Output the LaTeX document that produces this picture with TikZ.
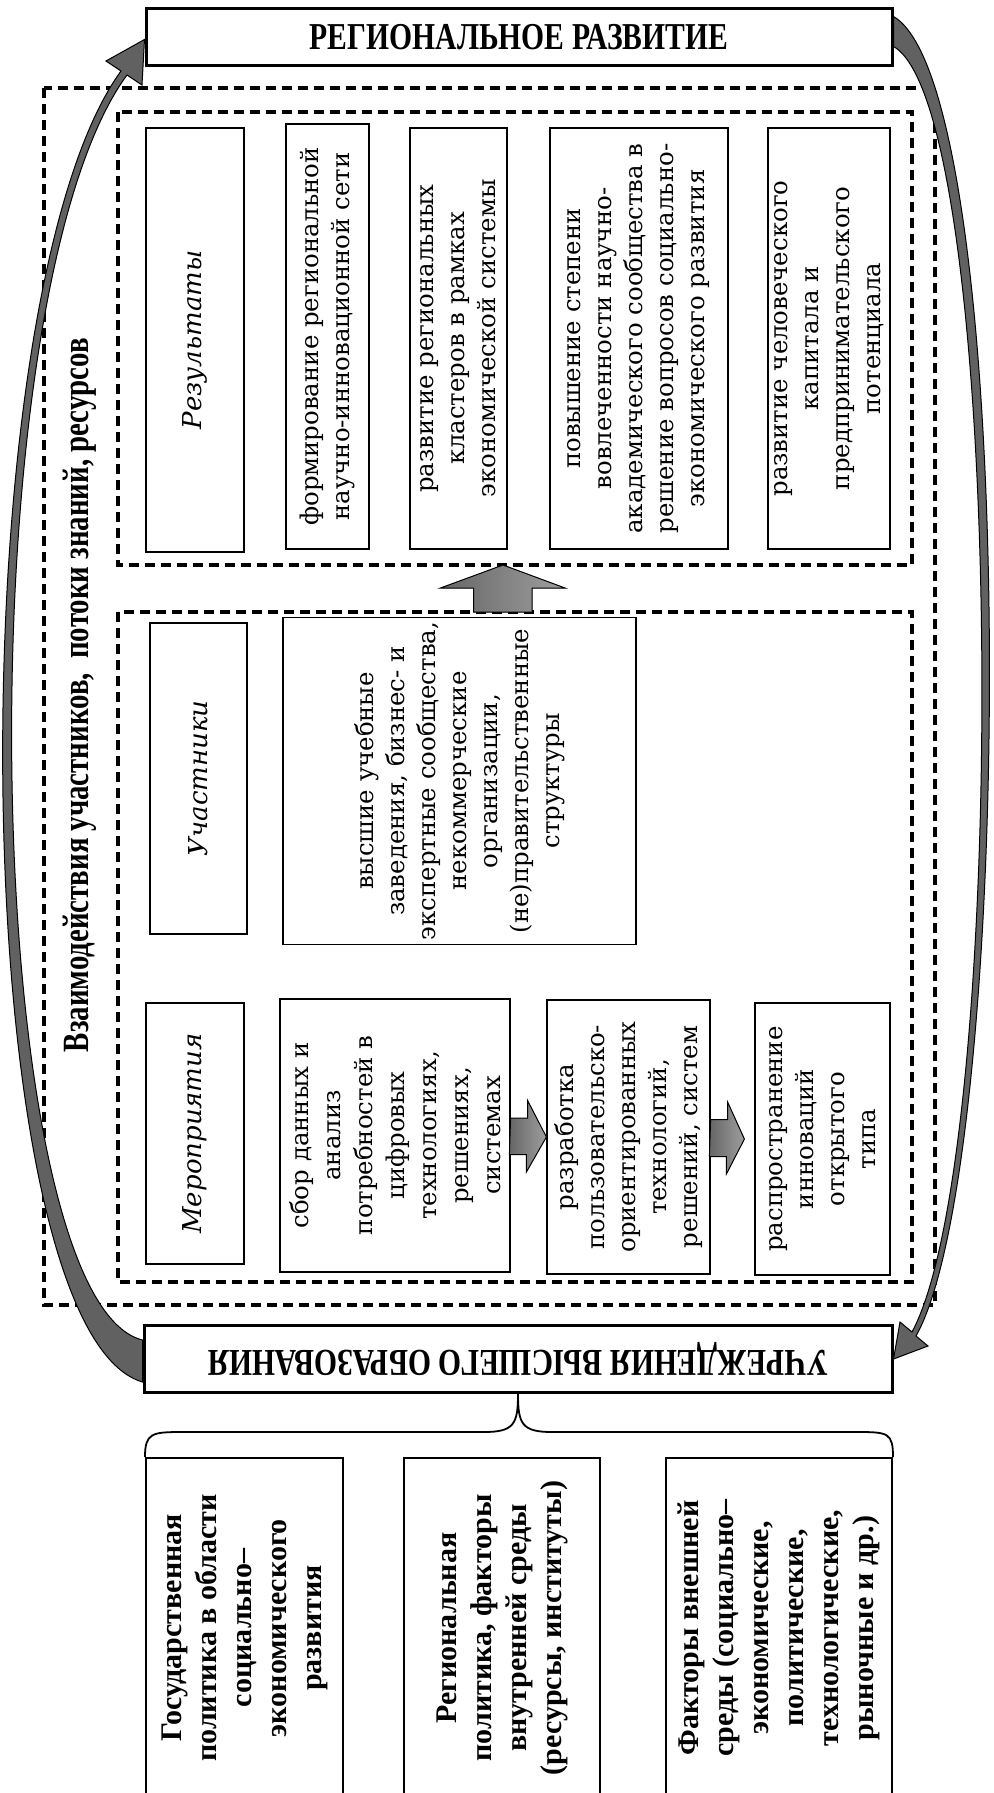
\documentclass[tikz,border=0pt]{standalone}
\usepackage{graphicx}
\usepackage{fontspec}
\setmainfont{DejaVu Serif}
\newfontfamily\headfont[FakeStretch=0.78]{Liberation Serif}
\newfontfamily\factfont{Liberation Serif}
\usetikzlibrary{calc}

\begin{document}
\begin{tikzpicture}[x=0.5pt, y=-0.5pt,
    head/.style={draw, line width=1.5pt, inner sep=0pt,
        font=\headfont\bfseries\fontsize{19}{22}\selectfont},
    frame/.style={line width=1.8pt, dash pattern=on 5pt off 3pt},
    item/.style={draw, line width=0.6pt, rotate=90, align=center, inner sep=2pt,
        font=\fontsize{12.2}{15.5}\selectfont},
    sect/.style={item, font=\fontsize{13}{15}\selectfont\itshape},
    fact/.style={draw, line width=1pt, rotate=90, align=center, inner sep=2pt,
        font=\factfont\bfseries\fontsize{15}{17.5}\selectfont},
    flow/.style={draw=black, line width=0.5pt, left color=black!60, right color=black!38},
    swoop/.style={draw=black, line width=0.5pt, fill=black!62}]

    \useasboundingbox (0,0) rectangle (993,1793);

    \foreach \xa/\ya/\xb/\yb in {44/88/935/1305, 118/112/912/565, 118/612/912/1282}
        \draw[frame] (\xa,\ya) rectangle (\xb,\yb);

    \node[head, minimum width=373pt, minimum height=28.5pt] (title) at (519,37.5)
        {РЕГИОНАЛЬНОЕ РАЗВИТИЕ};
    \node[head, minimum width=374pt, minimum height=33.5pt] (uni) at (518,1359)
        {\rotatebox{180}{УЧРЕЖДЕНИЯ ВЫСШЕГО ОБРАЗОВАНИЯ}};

    \node[rotate=90, font=\headfont\bfseries\fontsize{18.5}{20}\selectfont] (flows) at (80,695)
        {Взаимодействия участников,\ \ потоки знаний, ресурсов};

    \node[sect, minimum width=212pt, minimum height=49pt] (r0) at (195,340) {Результаты};
    \node[item, minimum width=212.5pt, minimum height=41.5pt] (r1) at (327.5,336.5)
        {формирование региональной\\научно-инновационной сети};
    \node[item, minimum width=210.5pt, minimum height=48.5pt] (r2) at (458.5,338.5)
        {развитие региональных\\кластеров в рамках\\экономической системы};
    \node[item, minimum width=210.5pt, minimum height=89pt] (r3) at (639,338.5)
        {повышение степени\\вовлеченности научно-\\академического сообщества в\\решение вопросов социально-\\экономического развития};
    \node[item, minimum width=210.5pt, minimum height=61pt] (r4) at (829,338.5)
        {развитие человеческого\\капитала и\\предпринимательского\\потенциала};

    \node[sect, minimum width=155.5pt, minimum height=48.5pt] (p0) at (198.5,778.5) {Участники};
    \node[item, minimum width=158pt, minimum height=176.5pt] (p1) at (459.5,781)
        {высшие учебные\\заведения, бизнес- и\\экспертные сообщества,\\некоммерческие\\организации,\\(не)правительственные\\структуры};

    \node[sect, minimum width=130.5pt, minimum height=49pt] (m0) at (195,1133.5) {Мероприятия};
    \node[item, minimum width=136.5pt, minimum height=115pt, font=\fontsize{12.2}{16}\selectfont]
        (m1) at (395,1135.5)
        {сбор данных и\\анализ\\потребностей в\\цифровых\\технологиях,\\решениях,\\системах};
    \node[item, minimum width=137pt, minimum height=81.5pt] (m2) at (628.5,1137)
        {разработка\\пользовательско-\\ориентированных\\технологий,\\решений, систем};
    \node[item, minimum width=136pt, minimum height=67.5pt] (m3) at (822.5,1139)
        {распространение\\инноваций\\открытого\\типа};

    \node[fact, minimum width=170pt, minimum height=98.5pt] (fa) at (244.5,1628)
        {Государственная\\политика в области\\социально–\\экономического\\развития};
    \node[fact, minimum width=170pt, minimum height=98pt] (fb) at (502,1628)
        {Региональная\\политика, факторы\\внутренней среды\\(ресурсы, институты)};
    \node[fact, minimum width=170pt, minimum height=113pt] (fc) at (779,1628)
        {Факторы внешней\\среды (социально–\\экономические,\\политические,\\технологические,\\рыночные и др.)};

    \coordinate (upbase) at (503,612);
    \coordinate (uptip) at (503,565);
    \filldraw[flow] (upbase) ++(-29.5,0) -- ++(0,-24) -- ++(-33,0) -- (uptip)
        -- ++(62,23) -- ++(-33,0) -- ++(0,24) -- cycle;
    \filldraw[flow] (m1.south) ++(0,-17.5) -- ++(17,0) -- ++(0,-17.5) -- (m2.north)
        -- ++(-20,35) -- ++(0,-17.5) -- ++(-17,0) -- cycle;
    \filldraw[flow] (m2.south) ++(0,-17.5) -- ++(17,0) -- ++(0,-17.5) -- ($(m3.north)+(-10,0)$)
        -- ++(-18,35) -- ++(0,-17.5) -- ++(-17,0) -- cycle;

    \draw[line width=0.9pt] (fa.north east) .. controls +(0,-24) and +(-30,0) .. (182,1432)
        -- (484,1432) .. controls +(30,0) and +(0,30) .. (uni.south)
        .. controls +(0,30) and +(-30,0) .. (552,1432)
        -- (858,1432) .. controls +(30,0) and +(0,-24) .. (fc.south east);

    \filldraw[swoop] ($(uni.west)+(0,23)$) .. controls (-35,1330) and (-45,300) .. (121,71)
        -- (106,61) -- ($(title.west)+(0,2)$) -- (142,85) -- (127,75)
        .. controls (-38,300) and (-20,1300) .. ($(uni.west)+(0,-19)$) -- cycle;
    \filldraw[swoop] ($(title.east)+(0,-21)$) .. controls (1020,90) and (1015,1160) .. (916,1336)
        -- (928,1346) -- (uni.east) -- (900,1322) -- (912,1332)
        .. controls (1010,1150) and (1006,110) .. ($(title.east)+(0,9)$) -- cycle;
\end{tikzpicture}
\end{document}
